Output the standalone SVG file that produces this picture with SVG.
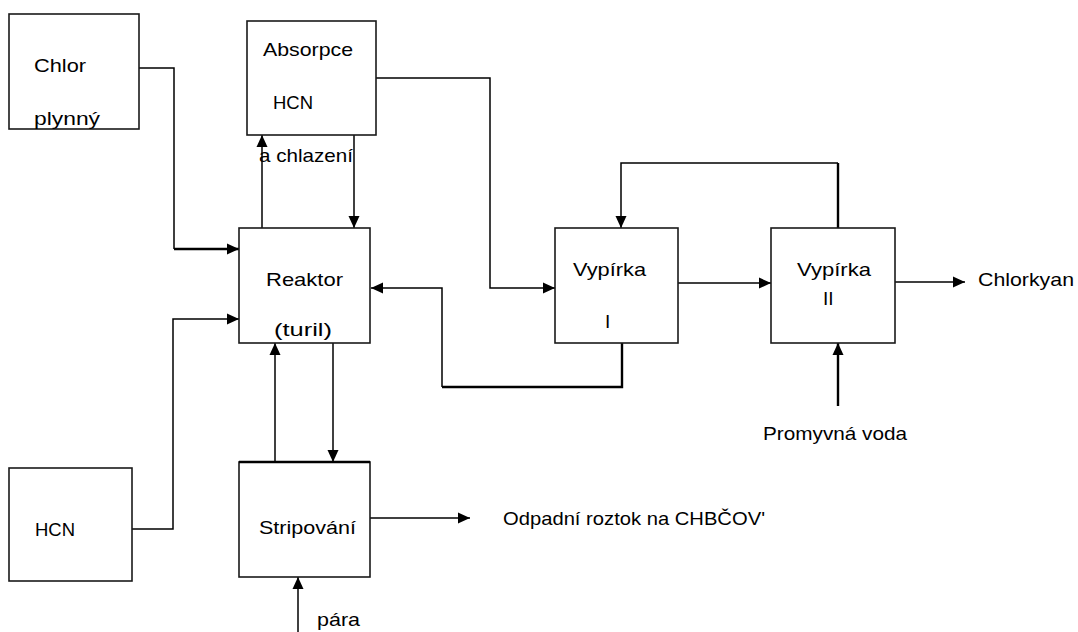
<svg xmlns="http://www.w3.org/2000/svg" width="1078" height="632" viewBox="0 0 1078 632">
<defs>
<style>
.box{fill:#fff;stroke:#1a1a1a;stroke-width:1.6}
.ln{fill:none;stroke:#000;stroke-width:1.5}
.thick{stroke-width:2.4}
text{font-family:"Liberation Sans",Arial,sans-serif;font-size:19px;fill:#000}
</style>
<marker id="ah" markerUnits="userSpaceOnUse" markerWidth="14" markerHeight="12" refX="12" refY="6" orient="auto">
<path d="M0,0.5 L12,6 L0,11.5 Z" fill="#000"/>
</marker>
</defs>
<rect width="1078" height="632" fill="#fff"/>
<g id="connectors">
<path class="ln" d="M139,68 H174 V249"/>
<path class="ln thick" d="M174,249 H239" marker-end="url(#ah)"/>
<path class="ln" d="M132,529 H173 V319 H239" marker-end="url(#ah)"/>
<path class="ln" d="M262,228 V135" marker-end="url(#ah)"/>
<path class="ln" d="M354,135 V228" marker-end="url(#ah)"/>
<path class="ln" d="M376,78 H490 V288 H555" marker-end="url(#ah)"/>
<path class="ln thick" d="M622,343 V387 H442"/>
<path class="ln" d="M442,387 V288 H371" marker-end="url(#ah)"/>
<path class="ln thick" d="M838,228 V163"/>
<path class="ln" d="M838,163 H621 V228" marker-end="url(#ah)"/>
<path class="ln" d="M678,283 H771" marker-end="url(#ah)"/>
<path class="ln" d="M895,282 H965" marker-end="url(#ah)"/>
<path class="ln thick" d="M838,406 V343" marker-end="url(#ah)"/>
<path class="ln" d="M275,462 V343" marker-end="url(#ah)"/>
<path class="ln" d="M333,343 V462" marker-end="url(#ah)"/>
<path class="ln" d="M370,518 H470" marker-end="url(#ah)"/>
<path class="ln" d="M298,632 V577" marker-end="url(#ah)"/>
</g>
<g id="chlor">
<rect class="box" x="9" y="14" width="130" height="115"/>
<text x="34" y="72" textLength="52" lengthAdjust="spacingAndGlyphs">Chlor</text>
<text x="34" y="125" textLength="66" lengthAdjust="spacingAndGlyphs">plynný</text>
</g>
<g id="absorpce">
<rect class="box" x="247" y="21" width="129" height="114"/>
<text x="263" y="56" textLength="90" lengthAdjust="spacingAndGlyphs">Absorpce</text>
<text x="273" y="109" textLength="40" lengthAdjust="spacingAndGlyphs">HCN</text>
</g>
<text id="label-chlazeni" x="259" y="162" textLength="94" lengthAdjust="spacingAndGlyphs">a chlazení</text>
<g id="reaktor">
<rect class="box" x="239" y="228" width="131" height="115"/>
<text x="266" y="286" textLength="77" lengthAdjust="spacingAndGlyphs">Reaktor</text>
<text x="274" y="336" textLength="58" lengthAdjust="spacingAndGlyphs">(turil)</text>
</g>
<g id="vypirka1">
<rect class="box" x="555" y="228" width="123" height="115"/>
<text x="573" y="276" textLength="73" lengthAdjust="spacingAndGlyphs">Vypírka</text>
<text x="605" y="328">I</text>
</g>
<g id="vypirka2">
<rect class="box" x="771" y="228" width="124" height="115"/>
<text x="797" y="276" textLength="74" lengthAdjust="spacingAndGlyphs">Vypírka</text>
<text x="823" y="305">II</text>
</g>
<text id="label-chlorkyan" x="978" y="286" textLength="96" lengthAdjust="spacingAndGlyphs">Chlorkyan</text>
<text id="label-voda" x="763" y="440" textLength="144" lengthAdjust="spacingAndGlyphs">Promyvná voda</text>
<g id="hcn">
<rect class="box" x="9" y="468" width="123" height="113"/>
<text x="35" y="536" textLength="40" lengthAdjust="spacingAndGlyphs">HCN</text>
</g>
<g id="stripovani">
<rect class="box" x="239" y="462" width="131" height="115"/>
<line x1="239" y1="462" x2="370" y2="462" stroke="#000" stroke-width="2.6"/>
<text x="259" y="534" textLength="97" lengthAdjust="spacingAndGlyphs">Stripování</text>
</g>
<text id="label-odpad" x="503" y="525" textLength="262" lengthAdjust="spacingAndGlyphs">Odpadní roztok na CHBČOV'</text>
<text id="label-para" x="317" y="626" textLength="43" lengthAdjust="spacingAndGlyphs">pára</text>
</svg>
